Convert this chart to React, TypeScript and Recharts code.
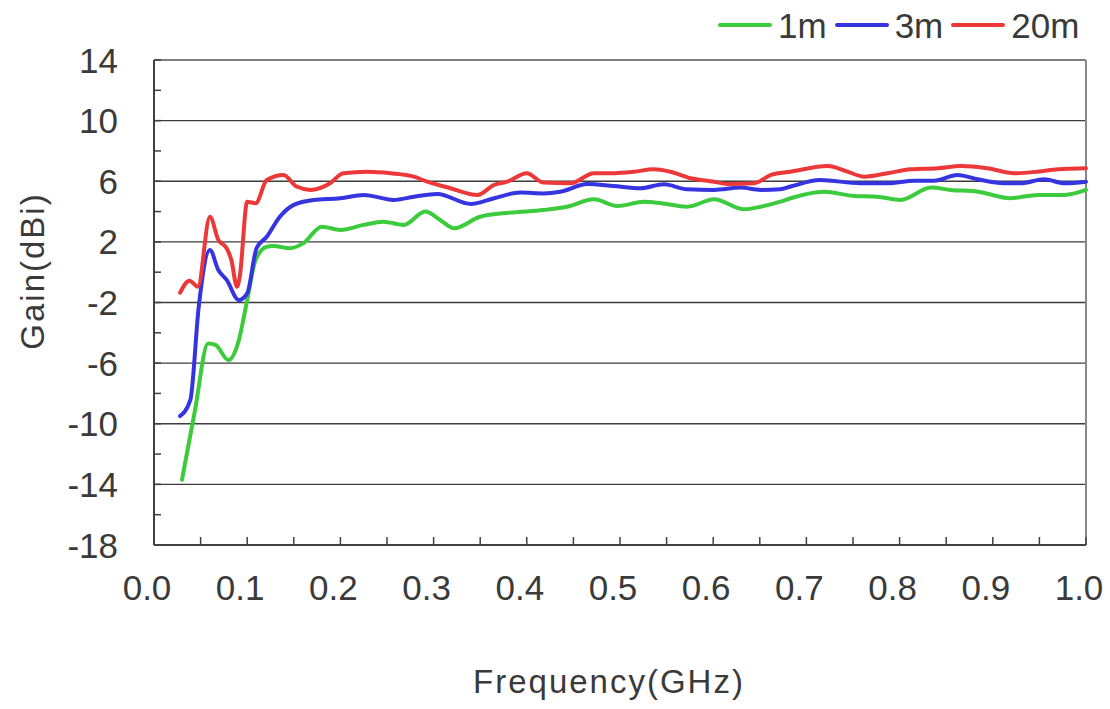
import { CartesianGrid, Legend, Line, LineChart, ReferenceLine, XAxis, YAxis } from "recharts"

// frequency (GHz) / gain (dBi), one pair of arrays per cable length
const freq1m = [
  0.03, 0.044, 0.058, 0.066, 0.08, 0.091, 0.1, 0.109, 0.121, 0.128, 0.146, 0.16, 0.18, 0.2, 0.225, 0.246,
  0.268, 0.291, 0.307, 0.322, 0.35, 0.382, 0.418, 0.443, 0.472, 0.497, 0.526, 0.544, 0.572, 0.601, 0.633,
  0.651, 0.672, 0.683, 0.719, 0.751, 0.776, 0.801, 0.834, 0.855, 0.884, 0.919, 0.948, 0.977, 1.0,
]
const gain1m = [
  -13.7, -9.1, -4.7, -4.8, -5.8, -4.5, -1.84, 0.8, 1.68, 1.73, 1.58, 1.9, 3.0, 2.79, 3.12, 3.33, 3.12, 4.0,
  3.45, 2.9, 3.66, 3.93, 4.1, 4.32, 4.81, 4.37, 4.65, 4.55, 4.32, 4.81, 4.15, 4.32, 4.65, 4.88, 5.31, 5.03,
  4.98, 4.77, 5.58, 5.43, 5.31, 4.88, 5.1, 5.1, 5.43,
]

const freq3m = [
  0.028, 0.039, 0.048, 0.06, 0.069, 0.078, 0.091, 0.1, 0.11, 0.121, 0.135, 0.15, 0.171, 0.2, 0.225, 0.257,
  0.279, 0.304, 0.34, 0.365, 0.393, 0.418, 0.436, 0.465, 0.493, 0.522, 0.547, 0.572, 0.601, 0.629, 0.651,
  0.672, 0.683, 0.715, 0.758, 0.787, 0.816, 0.837, 0.862, 0.884, 0.912, 0.93, 0.955, 0.977, 1.0,
]
const gain3m = [
  -9.49, -8.43, -2.28, 1.47, 0.14, -0.51, -1.84, -1.4, 1.58, 2.34, 3.66, 4.44, 4.77, 4.88, 5.1, 4.77, 4.98,
  5.16, 4.5, 4.88, 5.25, 5.2, 5.31, 5.82, 5.69, 5.54, 5.8, 5.47, 5.43, 5.58, 5.43, 5.47, 5.65, 6.08, 5.87,
  5.87, 6.04, 6.04, 6.42, 6.13, 5.87, 5.87, 6.13, 5.87, 5.97,
]

const freq20m = [
  0.028, 0.038, 0.047, 0.06, 0.069, 0.078, 0.083, 0.089, 0.092, 0.1, 0.109, 0.121, 0.139, 0.153, 0.168,
  0.189, 0.203, 0.229, 0.254, 0.279, 0.293, 0.318, 0.347, 0.365, 0.379, 0.4, 0.418, 0.447, 0.472, 0.49,
  0.515, 0.536, 0.554, 0.576, 0.601, 0.615, 0.644, 0.662, 0.683, 0.723, 0.744, 0.762, 0.787, 0.812, 0.841,
  0.866, 0.894, 0.923, 0.948, 0.97, 1.0,
]
const gain20m = [
  -1.35, -0.56, -0.96, 3.66, 2.13, 1.58, 0.8, -0.96, -0.3, 4.65, 4.55, 6.08, 6.42, 5.65, 5.43, 5.87, 6.53,
  6.63, 6.53, 6.3, 5.97, 5.54, 5.1, 5.76, 5.97, 6.53, 5.91, 5.87, 6.53, 6.53, 6.63, 6.79, 6.63, 6.2, 5.97,
  5.82, 5.87, 6.42, 6.63, 7.0, 6.63, 6.3, 6.53, 6.79, 6.86, 7.0, 6.86, 6.53, 6.63, 6.79, 6.86,
]

const xTicks = [0, 0.05, 0.1, 0.15, 0.2, 0.25, 0.3, 0.35, 0.4, 0.45, 0.5, 0.55, 0.6, 0.65, 0.7, 0.75, 0.8, 0.85, 0.9, 0.95, 1.0]
const yTicks = [-18, -16, -14, -12, -10, -8, -6, -4, -2, 0, 2, 4, 6, 8, 10, 12, 14]
const gridValues = [10, 6, 2, -2, -6, -10, -14]

const series = [
  { name: "1m", freq: freq1m, gain: gain1m, color: "#3ccb3c" },
  { name: "3m", freq: freq3m, gain: gain3m, color: "#3434e0" },
  { name: "20m", freq: freq20m, gain: gain20m, color: "#ec3838" },
]

const TEXT = "#3a3a3a"
const FONT = "'Liberation Sans', Arial, sans-serif"

const XTick = ({ x, y, payload, index }: any) => (
  <g>
    <line x1={x} y1={y} x2={x} y2={y - 8} stroke="#404040" strokeWidth={1.5} />
    {index % 2 === 0 && (
      <text x={x - 7} y={y + 55} textAnchor="middle" fontSize={35} fill={TEXT} fontFamily={FONT}>
        {payload.value.toFixed(1)}
      </text>
    )}
  </g>
)

const YTick = ({ x, y, payload, index }: any) => (
  <g>
    <line x1={x} y1={y} x2={x + 7} y2={y} stroke="#404040" strokeWidth={1.5} />
    {index % 2 === 0 && (
      <text x={x - 36} y={y} dy="0.36em" textAnchor="end" fontSize={35} fill={TEXT} fontFamily={FONT}>
        {payload.value}
      </text>
    )}
  </g>
)

const YTitle = ({ viewBox }: any) => (
  <text
    transform={`translate(${viewBox.x + 44}, 271) rotate(-90)`}
    textAnchor="middle"
    fontSize={33}
    letterSpacing={2}
    fill={TEXT}
    fontFamily={FONT}
  >
    Gain(dBi)
  </text>
)

const XTitle = ({ viewBox }: any) => (
  <text x={viewBox.x + viewBox.width / 2 - 11} y={693} textAnchor="middle" fontSize={33} letterSpacing={2} fill={TEXT} fontFamily={FONT}>
    Frequency(GHz)
  </text>
)

const LegendContent = () => (
  <div style={{ display: "flex", alignItems: "center", height: 50, fontFamily: FONT, fontSize: 35, color: TEXT, lineHeight: "35px" }}>
    {series.map((s) => (
      <div key={s.name} style={{ display: "flex", alignItems: "center", marginRight: 8 }}>
        <span style={{ display: "inline-block", width: 54, height: 4, borderRadius: 2, background: s.color, marginRight: 6 }} />
        <span>{s.name}</span>
      </div>
    ))}
  </div>
)

export default function App() {
  return (
    <div style={{ position: "absolute", left: 0, top: 0, background: "#fff" }}>
      <LineChart width={1110} height={709} margin={{ top: 60, right: 24, bottom: 0, left: 0 }}>
        <CartesianGrid horizontal={false} vertical={false} />
        <XAxis
          type="number"
          dataKey="f"
          domain={[0, 1]}
          ticks={xTicks}
          interval={0}
          height={164}
          tickSize={0}
          tickMargin={0}
          tick={<XTick />}
          axisLine={{ stroke: "#404040", strokeWidth: 2 }}
          allowDuplicatedCategory={false}
          label={<XTitle />}
        />
        <YAxis
          type="number"
          domain={[-18, 14]}
          ticks={yTicks}
          interval={0}
          width={154}
          tickSize={0}
          tickMargin={0}
          tick={<YTick />}
          axisLine={{ stroke: "#404040", strokeWidth: 2 }}
          label={<YTitle />}
        />
        {gridValues.map((v) => (
          <ReferenceLine key={v} y={v} stroke="#3c3c3c" strokeWidth={1.3} />
        ))}
        <ReferenceLine y={14} stroke="#555" strokeWidth={1.5} />
        <ReferenceLine x={1} stroke="#888" strokeWidth={2} />
        <Legend
          layout="horizontal"
          verticalAlign="middle"
          content={<LegendContent />}
          wrapperStyle={{ top: 0, left: 718, width: "auto" }}
        />
        {series.map((s) => (
          <Line
            key={s.name}
            name={s.name}
            data={s.freq.map((f, i) => ({ f, g: s.gain[i] }))}
            dataKey="g"
            type="monotone"
            stroke={s.color}
            strokeWidth={4}
            strokeLinecap="round"
            strokeLinejoin="round"
            dot={false}
            activeDot={false}
            isAnimationActive={false}
          />
        ))}
      </LineChart>
    </div>
  )
}
